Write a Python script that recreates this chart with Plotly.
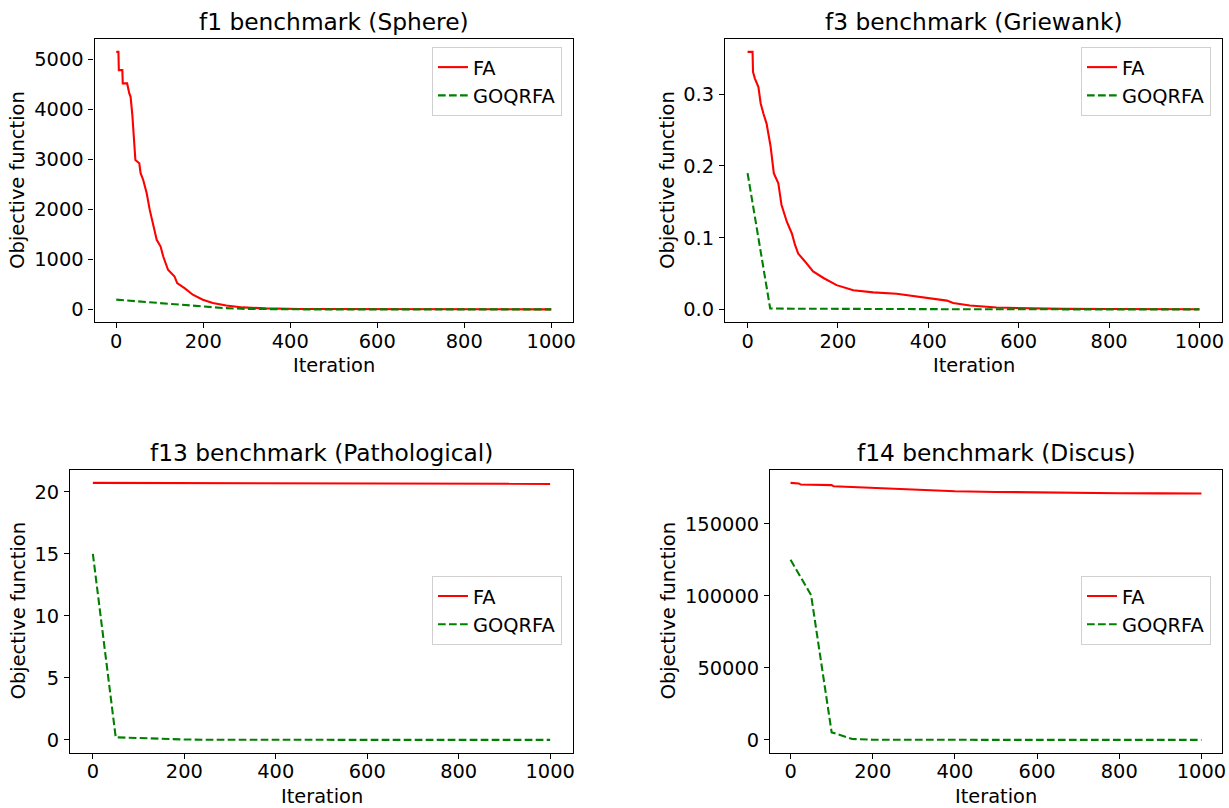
import plotly.graph_objects as go

W, H = 1229, 808
FONT = "DejaVu Sans"
FS = 19.4
TFS = 23.3

# ---------------- data ----------------
goq_iter = list(range(0, 1001, 50))

# f1 Sphere
f1_fa_iter = [0, 5, 6, 14, 15, 25, 30, 33, 37, 40, 44, 53, 56, 62, 70, 77, 85, 93, 102, 108,
              119, 134, 140, 157, 176, 199, 222, 253, 291, 344, 421, 500, 600, 700, 800, 900, 1000]
f1_fa_val = [5152, 5152, 4786, 4786, 4521, 4521, 4321, 4253, 3888, 3455, 2989, 2923, 2724, 2590,
             2324, 1991, 1657, 1392, 1258, 1058, 793, 659, 527, 427, 294, 194, 128, 80, 40, 20, 8,
             5, 3, 2, 1, 1, 1]
f1_goq_val = [195, 162, 114, 82, 48, 26, 10, 3, 1, 0.5, 0.2, 0.1, 0, 0, 0, 0, 0, 0, 0, 0, 0]

# f3 Griewank
f3_fa_iter = [0, 11, 12, 16, 24, 29, 35, 42, 51, 58, 68, 75, 87, 98, 105, 112, 127, 145, 168, 197,
              234, 278, 330, 367, 404, 441, 455, 492, 551, 625, 700, 800, 900, 1000]
f3_fa_val = [0.3589, 0.3589, 0.331, 0.322, 0.310, 0.287, 0.273, 0.259, 0.227, 0.190, 0.176, 0.146,
             0.122, 0.106, 0.090, 0.078, 0.067, 0.053, 0.044, 0.034, 0.027, 0.024, 0.022, 0.019,
             0.016, 0.0125, 0.009, 0.0056, 0.0028, 0.0014, 0.0010, 0.0008, 0.0006, 0.0005]
f3_goq_val = [0.19, 0.0015, 0.0012, 0.0010, 0.0009, 0.0008, 0.0007, 0.0006, 0.0005, 0.0005, 0.0004,
              0.0004, 0.0003, 0.0003, 0.0003, 0.0003, 0.0002, 0.0002, 0.0002, 0.0002, 0.0002]

# f13 Pathological
f13_fa_iter = [0, 100, 200, 300, 400, 500, 600, 700, 800, 900, 1000]
f13_fa_val = [20.72, 20.71, 20.70, 20.70, 20.69, 20.68, 20.67, 20.66, 20.66, 20.65, 20.64]
f13_goq_val = [15.0, 0.20, 0.15, 0.08, 0.03, 0.01, 0, 0, 0, 0, 0, 0, 0, 0, 0, 0, 0, 0, 0, 0, 0]

# f14 Discus
f14_fa_iter = [0, 20, 25, 50, 100, 105, 200, 270, 350, 400, 500, 600, 700, 800, 900, 1000]
f14_fa_val = [178400, 178000, 177200, 176900, 176800, 176000, 175000, 173800, 173000, 172600,
              172100, 171700, 171400, 171200, 171100, 171000]
f14_goq_val = [125000, 100500, 5200, 600, 100, 0, 0, 0, 0, 0, 0, 0, 0, 0, 0, 0, 0, 0, 0, 0, 0]

titles = ["f1 benchmark (Sphere)", "f3 benchmark (Griewank)",
          "f13 benchmark (Pathological)", "f14 benchmark (Discus)"]
y_ticks = [[0, 1000, 2000, 3000, 4000, 5000],
           [0.0, 0.1, 0.2, 0.3],
           [0, 5, 10, 15, 20],
           [0, 50000, 100000, 150000]]
x_ticks = [0, 200, 400, 600, 800, 1000]


def px(x):
    return x / W


def py(y):
    return 1 - y / H


# pixel boxes: left, right, top, bottom
boxes = [(94.5, 573, 39, 322.3), (725, 1222, 39, 322.3),
         (70, 573, 470, 752.7), (770, 1222, 470, 752.7)]
ylabel_x = [18, 668, 18, 668]

series = [
    (f1_fa_iter, f1_fa_val, f1_goq_val),
    (f3_fa_iter, f3_fa_val, f3_goq_val),
    (f13_fa_iter, f13_fa_val, f13_goq_val),
    (f14_fa_iter, f14_fa_val, f14_goq_val),
]

fig = go.Figure()
annotations = []
layout = dict(width=W, height=H, margin=dict(l=0, r=0, t=0, b=0),
              paper_bgcolor="white", plot_bgcolor="white",
              font=dict(family=FONT, size=FS, color="black"))

for i, (fa_x, fa_y, goq_y) in enumerate(series):
    n = i + 1
    sx = "" if n == 1 else str(n)
    leg = "legend" if n == 1 else f"legend{n}"
    fig.add_trace(go.Scatter(x=fa_x, y=fa_y, mode="lines", name="FA",
                             line=dict(color="red", width=2.1),
                             xaxis="x" + sx, yaxis="y" + sx, legend=leg))
    fig.add_trace(go.Scatter(x=goq_iter, y=goq_y, mode="lines", name="GOQRFA",
                             line=dict(color="green", width=2.1, dash="7.7px,3.3px"),
                             xaxis="x" + sx, yaxis="y" + sx, legend=leg))
    l, r, t, b = boxes[i]
    allv = list(fa_y) + list(goq_y)
    vmax, vmin = max(allv), min(allv)
    pad = 0.05 * (vmax - vmin)
    axis_common = dict(showline=True, linecolor="black", linewidth=1.1, mirror=True,
                       ticks="outside", ticklen=5, tickwidth=1.1, tickcolor="black",
                       showgrid=False, zeroline=False, automargin=False,
                       tickfont=dict(family=FONT, size=FS, color="black"))
    layout["xaxis" + sx] = dict(domain=[px(l), px(r)], anchor="y" + sx,
                                range=[-50, 1050], tickvals=x_ticks,
                                ticklabelstandoff=-4, **axis_common)
    yt = y_ticks[i]
    ytext = [f"{v:.1f}" for v in yt] if i == 1 else [str(v) for v in yt]
    layout["yaxis" + sx] = dict(domain=[py(b), py(t)], anchor="x" + sx,
                                range=[vmin - pad, vmax + pad], tickvals=yt, ticktext=ytext,
                                ticklabelstandoff=1, **axis_common)
    # legend
    lx = px(r - 11)
    if i < 2:
        ly, yanc = py(t + 8), "top"
    else:
        ly, yanc = py((t + b) / 2 - 1), "middle"
    layout[leg] = dict(x=lx, y=ly, xanchor="right", yanchor=yanc, bgcolor="white",
                       bordercolor="#d0d0d0", borderwidth=1,
                       font=dict(family=FONT, size=FS, color="black"))
    # title
    annotations.append(dict(text=titles[i], x=px((l + r) / 2), y=py(t), xref="paper",
                            yref="paper", xanchor="center", yanchor="bottom", yshift=2,
                            showarrow=False, font=dict(family=FONT, size=TFS, color="black")))
    # x label
    annotations.append(dict(text="Iteration", x=px((l + r) / 2), y=py(b + 43.5), xref="paper",
                            yref="paper", xanchor="center", yanchor="middle", showarrow=False,
                            font=dict(family=FONT, size=FS, color="black")))
    # y label
    annotations.append(dict(text="Objective function", x=px(ylabel_x[i]), y=py((t + b) / 2),
                            xref="paper", yref="paper", xanchor="center", yanchor="middle",
                            textangle=-90, showarrow=False,
                            font=dict(family=FONT, size=FS, color="black")))

layout["annotations"] = annotations
fig.update_layout(**layout)
fig.write_html("out.html", config={"displayModeBar": False},
               post_script="document.body.style.margin='0';document.body.style.overflow='hidden';")
